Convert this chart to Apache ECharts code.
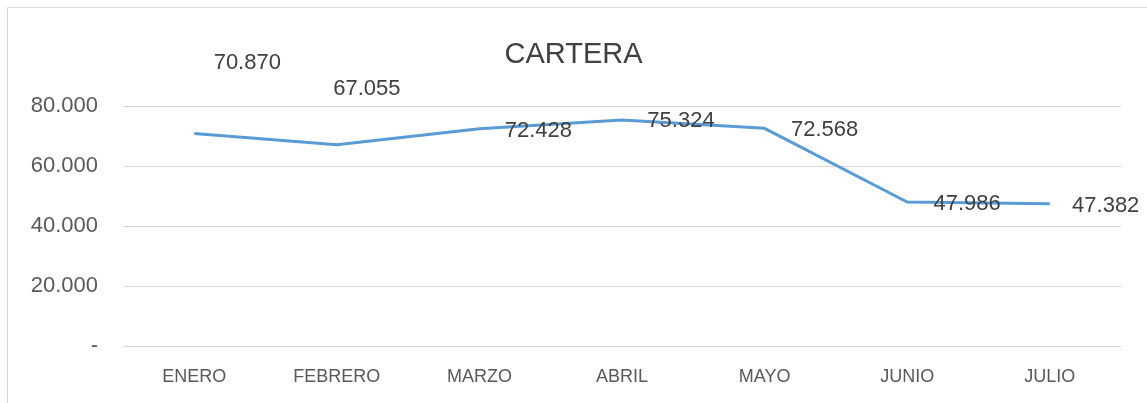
<!DOCTYPE html>
<html>
<head>
<meta charset="utf-8">
<script src="https://cdn.jsdelivr.net/npm/echarts@6/dist/echarts.min.js"></script>
<style>
html,body{margin:0;padding:0;background:#fff;}
#c{width:1147px;height:403px;}
</style>
</head>
<body>
<div id="c"></div>
<script>
const title = 'CARTERA';
const categories = ['ENERO','FEBRERO','MARZO','ABRIL','MAYO','JUNIO','JULIO'];
const values = [70870, 67055, 72428, 75324, 72568, 47986, 47382];
const yTicks = [0, 20000, 40000, 60000, 80000];
const labelOffsets = [[53,-70],[30,-56],[59,2],[59,1],[60,2],[60,2],[56,2]];

function fmt(v){
  if (v === 0) return '-';
  return String(Math.round(v)).replace(/\B(?=(\d{3})+(?!\d))/g, '.');
}

const chart = echarts.init(document.getElementById('c'));
chart.setOption({
  backgroundColor: '#fff',
  animation: false,
  graphic: [{
    type: 'rect',
    shape: {x: 7.5, y: 7.5, width: 1160, height: 420},
    style: {fill: 'none', stroke: '#D9D9D9', lineWidth: 1},
    silent: true
  }],
  title: {
    text: title,
    left: 'center',
    top: 35,
    textStyle: {fontFamily: 'Liberation Sans', fontSize: 29, fontWeight: 'normal', color: '#404040'}
  },
  grid: {left: 123, right: 26, top: 106, bottom: 57},
  xAxis: {
    type: 'category',
    data: categories,
    boundaryGap: true,
    axisLine: {show: true, lineStyle: {color: '#D9D9D9'}},
    axisTick: {show: false},
    axisLabel: {margin: 22, fontFamily: 'Liberation Sans', fontSize: 18, color: '#595959'}
  },
  yAxis: {
    type: 'value',
    min: yTicks[0],
    max: yTicks[yTicks.length-1],
    interval: yTicks[1]-yTicks[0],
    axisLine: {show: false},
    axisTick: {show: false},
    splitLine: {lineStyle: {color: '#D9D9D9', width: 1}},
    axisLabel: {margin: 25, fontFamily: 'Liberation Sans', fontSize: 22, color: '#595959', formatter: fmt}
  },
  series: [{
    type: 'line',
    data: values.map((v, i) => ({
      value: v,
      label: {offset: labelOffsets[i]}
    })),
    smooth: false,
    symbol: 'circle',
    symbolSize: 0.1,
    itemStyle: {color: '#5B9BD5'},
    lineStyle: {color: '#5B9BD5', width: 3},
    label: {
      show: true,
      position: 'inside',
      fontFamily: 'Liberation Sans',
      fontSize: 22,
      color: '#404040',
      formatter: p => fmt(p.value)
    }
  }]
});
</script>
</body>
</html>
